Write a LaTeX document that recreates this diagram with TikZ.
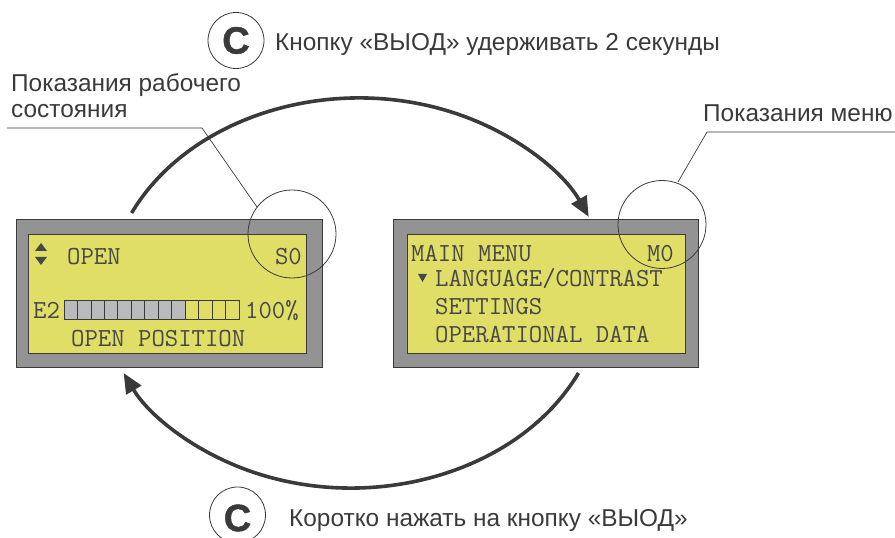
\documentclass[tikz,border=0pt]{standalone}
\usepackage{fontspec}
\setmainfont{Liberation Sans}
\newfontfamily\labfont{Liberation Sans}
\newfontfamily\cfont{Liberation Sans Bold}[FakeBold=1.2]
\usetikzlibrary{arrows.meta}
\definecolor{ink}{HTML}{3A3A3A}
\definecolor{frame}{HTML}{949394}
\definecolor{lcd}{HTML}{E0DE66}
\definecolor{cell}{HTML}{B9BABC}
\definecolor{lcdtext}{HTML}{474747}
\tikzset{
  outerbox/.style={draw=ink, line width=0.8pt, fill=frame},
  innerbox/.style={draw=ink, line width=0.8pt, fill=lcd},
  lcdtxt/.style={font=\fontsize{26}{28}\selectfont\ttfamily, text=lcdtext, inner sep=0pt},
  labtxt/.style={font=\fontsize{24.4}{29}\selectfont\labfont, text=ink, inner sep=0pt},
  ctxt/.style={font=\fontsize{38}{38}\selectfont\cfont, text=ink, inner sep=0pt},
  flow/.style={draw=ink, line width=3.6pt, -{Triangle[length=20pt,width=17pt]}},
  leader/.style={draw=ink, line width=0.7pt},
  ring/.style={draw=ink, line width=0.8pt},
  barcell/.style={draw=ink, line width=0.7pt},
}
\begin{document}
\begin{tikzpicture}[x=1pt,y=1pt]
\useasboundingbox (0,0) rectangle (895,538);
% ---------- left panel
\draw[outerbox] (16,171) rectangle (322,319);
\draw[innerbox] (28,185) rectangle (306,304);
\fill[lcdtext] (41,295) -- (35,287) -- (47,287) -- cycle;
\fill[lcdtext] (35,281) -- (47,281) -- (41,273) -- cycle;
\node[lcdtxt, anchor=base west] (lopen) at (67,273) {OPEN};
\node[lcdtxt, anchor=base east] (ls0) at (302,273) {S0};
\node[lcdtxt, anchor=base west] (le2) at (33,219) {E2};
\foreach \i in {0,...,12} {
  \pgfmathsetmacro{\xa}{64+\i*13.46}
  \pgfmathsetmacro{\xb}{64+(\i+1)*13.46}
  \ifnum\i<9
    \draw[barcell, fill=cell] (\xa,219) rectangle (\xb,238);
  \else
    \draw[barcell] (\xa,219) rectangle (\xb,238);
  \fi
}
\node[lcdtxt, anchor=base west] (lpct) at (245,219) {100\%};
\node[lcdtxt, anchor=base west] (lpos) at (71,191) {OPEN POSITION};
% ---------- right panel
\draw[outerbox] (393,171) rectangle (698,319);
\draw[innerbox] (407,185) rectangle (685,304);
\node[lcdtxt, anchor=base west] (rmain) at (411,276) {MAIN MENU};
\node[lcdtxt, anchor=base east] (rm0) at (674,276) {M0};
\fill[lcdtext] (418,264) -- (427,264) -- (422.5,256) -- cycle;
\node[lcdtxt, anchor=base west] (rlang) at (435,251) {LANGUAGE/CONTRAST};
\node[lcdtxt, anchor=base west] (rset) at (435,223) {SETTINGS};
\node[lcdtxt, anchor=base west] (rop) at (435,195) {OPERATIONAL DATA};
% ---------- highlight rings and leaders
\draw[ring] (292,304) circle[radius=44];
\draw[ring] (662,313.5) circle[radius=44];
\coordinate (l1) at (7,410);
\coordinate (l2) at (202,410);
\coordinate (l3) at (257,331);
\draw[leader] (l1) -- (l2) -- (l3);
\coordinate (m1) at (895,406);
\coordinate (m2) at (707,406);
\coordinate (m3) at (678,356);
\draw[leader] (m1) -- (m2) -- (m3);
\node[labtxt, anchor=base west] (labwork1) at (11,446) {Показания рабочего};
\node[labtxt, anchor=base west] (labwork2) at (11,420) {состояния};
\node[labtxt, anchor=base west] (labmenu) at (703,416) {Показания меню};
% ---------- flow arcs
\coordinate (ta) at (131.6,325);
\draw[flow] (ta) arc[start angle=154.5, end angle=24.3, x radius=252, y radius=202];
\coordinate (ba) at (578.5,165);
\draw[flow] (ba) arc[start angle=-25.5, end angle=-154.5, x radius=252, y radius=202];
% ---------- C buttons and captions
\draw[ring] (236,497.5) circle[radius=28];
\node[ctxt] (ctop) at (236,497.5) {C};
\node[labtxt, anchor=base west] (toptext) at (275,487) {Кнопку «ВЫОД» удерживать 2 секунды};
\draw[ring] (237.5,23) circle[radius=28];
\node[ctxt] (cbot) at (237.5,20) {C};
\node[labtxt, anchor=base west] (bottext) at (289,11) {Коротко нажать на кнопку «ВЫОД»};
\end{tikzpicture}
\end{document}
